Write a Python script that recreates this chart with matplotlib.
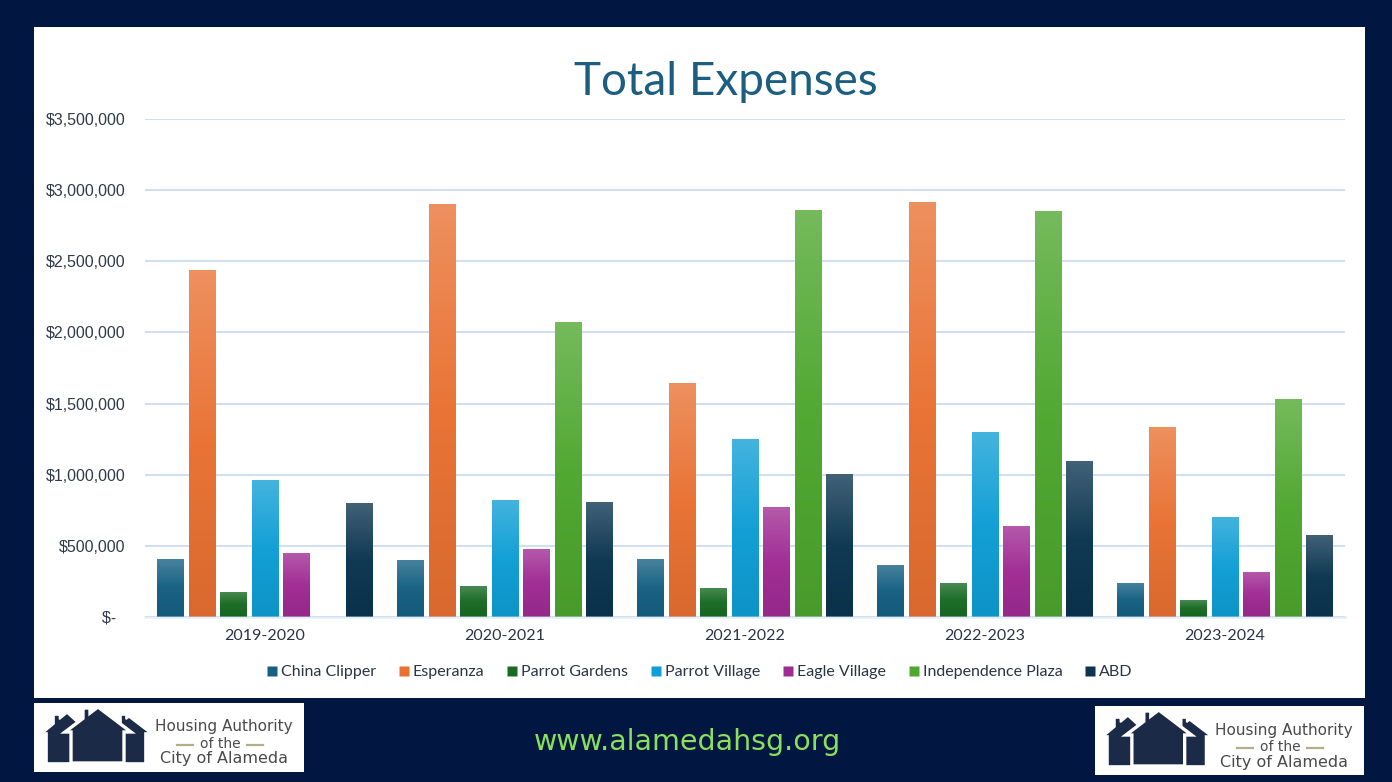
import numpy as np
import matplotlib
matplotlib.use('Agg')
import matplotlib.pyplot as plt
from matplotlib.colors import to_rgb
from matplotlib.patches import Rectangle, Polygon
from matplotlib.lines import Line2D

# ---- data ----
years = ['2019-2020', '2020-2021', '2021-2022', '2022-2023', '2023-2024']
series_names = ['China Clipper', 'Esperanza', 'Parrot Gardens', 'Parrot Village',
                'Eagle Village', 'Independence Plaza', 'ABD']
china_clipper = [410000, 403000, 405000, 368000, 242000]
esperanza = [2439000, 2903000, 1643000, 2918000, 1333000]
parrot_gardens = [178000, 220000, 206000, 242000, 122000]
parrot_village = [960000, 819000, 1249000, 1298000, 706000]
eagle_village = [453000, 481000, 770000, 643000, 319000]
independence_plaza = [0, 2072000, 2861000, 2854000, 1530000]
abd = [798000, 805000, 1002000, 1094000, 573000]
series_values = [china_clipper, esperanza, parrot_gardens, parrot_village,
                 eagle_village, independence_plaza, abd]
colors = ['#156082', '#E97132', '#196B24', '#0F9ED5', '#A02B93', '#4EA72E', '#0B3550']
y_ticks = [0, 500000, 1000000, 1500000, 2000000, 2500000, 3000000, 3500000]
y_tick_labels = ['$-  ', '$500,000', '$1,000,000', '$1,500,000', '$2,000,000',
                 '$2,500,000', '$3,000,000', '$3,500,000']

W, H = 1392, 782
NAVY = '#011640'
fig = plt.figure(figsize=(W / 100, H / 100), dpi=100, facecolor=NAVY)


def fx(px):
    return px / W


def fy(py):
    return 1 - py / H


# white panel
fig.patches.append(Rectangle((fx(34), fy(698)), fx(1365) - fx(34), fy(27) - fy(698),
                             transform=fig.transFigure, facecolor='white',
                             edgecolor='none', zorder=-5))

fig.text(fx(726), fy(82), 'Total Expenses', ha='center', va='center',
         fontsize=33, color='#1B5E80', family='Lato')

ax = fig.add_axes([fx(145), fy(617), fx(1345) - fx(145), fy(119) - fy(617)])
ax.set_facecolor('none')
for s in ax.spines.values():
    s.set_visible(False)

n = len(series_names)
slot = 31.5 / 240
bw = 27 / 240
x = np.arange(len(years))


def mix(c, t, f):
    c = np.array(to_rgb(c))
    t = np.array(to_rgb(t))
    return c + (t - c) * f


for i, (name, vals, c) in enumerate(zip(series_names, series_values, colors)):
    pos = x + (i - (n - 1) / 2) * slot
    bars = ax.bar(pos, vals, width=bw, color=c, label=name, zorder=3, linewidth=0)
    top = mix(c, 'white', 0.22)
    mid = mix(c, 'white', 0.02)
    bot = mix(c, 'black', 0.07)
    N = 128
    t = np.linspace(0, 1, N)[:, None]
    grad = np.where(t < 0.5, top + (mid - top) * (t / 0.5),
                    mid + (bot - mid) * ((t - 0.5) / 0.5))
    img = grad[:, None, :]
    for b in bars:
        h = b.get_height()
        if h <= 0:
            continue
        x0 = b.get_x()
        im = ax.imshow(img, extent=(x0, x0 + b.get_width(), 0, h), origin='upper',
                       aspect='auto', zorder=4, interpolation='bilinear')
        im.set_clip_path(b)

ax.set_xlim(-0.5, len(years) - 0.5)
ax.set_ylim(0, 3500000)
ax.set_yticks(y_ticks)
ax.set_yticklabels(y_tick_labels, family='Liberation Sans', fontsize=11.5, color='#2F3B4C')
ax.set_xticks(x)
ax.set_xticklabels(years, family='Lato', fontsize=11.5, color='#2A3544')
ax.tick_params(axis='y', length=0, pad=14)
ax.tick_params(axis='x', length=0, pad=9)
ax.grid(axis='y', color='#CFE0F2', linewidth=1.4, zorder=0)
ax.set_axisbelow(True)
# baseline drawn semi-transparently over the bars
ax.axhline(0, color='#CFE0F2', linewidth=1.8, alpha=0.55, zorder=6, clip_on=False)

handles = [Line2D([], [], marker='s', linestyle='none', markersize=7.5,
                  markerfacecolor=c, markeredgecolor='none') for c in colors]
fig.legend(handles, series_names, loc='center', bbox_to_anchor=(fx(700), fy(672)),
           ncol=len(series_names), frameon=False, handlelength=0.6,
           handletextpad=0.25, columnspacing=1.45,
           prop={'family': 'Lato', 'size': 11.5}, labelcolor='#2A3544')

fig.text(fx(687), fy(742), 'www.alamedahsg.org', ha='center', va='center',
         fontsize=20.5, color='#88E05C', family='DejaVu Sans')


def draw_logo(x0, y0, x1, y1):
    la = fig.add_axes([fx(x0), fy(y1), fx(x1) - fx(x0), fy(y0) - fy(y1)])
    la.set_xlim(0, 270)
    la.set_ylim(69, 0)
    la.set_facecolor('white')
    la.set_xticks([])
    la.set_yticks([])
    for s in la.spines.values():
        s.set_visible(False)
    house = '#1B2A47'
    # left small house (with chimney)
    la.add_patch(Polygon([(13, 60), (13, 30), (9, 30), (20, 20.8), (20, 12), (25.5, 12),
                          (25.5, 16.25), (33, 10), (44, 20), (44, 60)],
                         closed=True, facecolor=house, edgecolor='white', linewidth=1.2))
    # right small house (with chimney)
    la.add_patch(Polygon([(84, 60), (84, 22), (87, 19.8), (87, 12), (92, 12), (92, 16.2),
                          (95, 14), (116, 30), (111, 30), (111, 60)],
                         closed=True, facecolor=house, edgecolor='white', linewidth=1.2))
    # central house (with chimney)
    la.add_patch(Polygon([(37, 60), (37, 29), (31, 29), (49, 15.4), (49, 5), (56, 5),
                          (56, 10.06), (64, 4), (97, 29), (90, 29), (90, 60)],
                         closed=True, facecolor=house, edgecolor='white', linewidth=2.4,
                         zorder=3))
    la.text(190, 24, 'Housing Authority', ha='center', va='center', fontsize=11,
            color='#4A4A4A', family='DejaVu Sans')
    la.text(186, 41, 'of the', ha='center', va='center', fontsize=10,
            color='#4A4A4A', family='DejaVu Sans')
    la.plot([143, 159], [42, 42], color='#B3AE88', linewidth=1.6)
    la.plot([213, 229], [42, 42], color='#B3AE88', linewidth=1.6)
    la.text(190, 56, 'City of Alameda', ha='center', va='center', fontsize=11.5,
            color='#4A4A4A', family='DejaVu Sans')


draw_logo(34, 703, 304, 772)
draw_logo(1095, 706, 1364, 775)

fig.savefig('out.png', dpi=100, facecolor=NAVY)
